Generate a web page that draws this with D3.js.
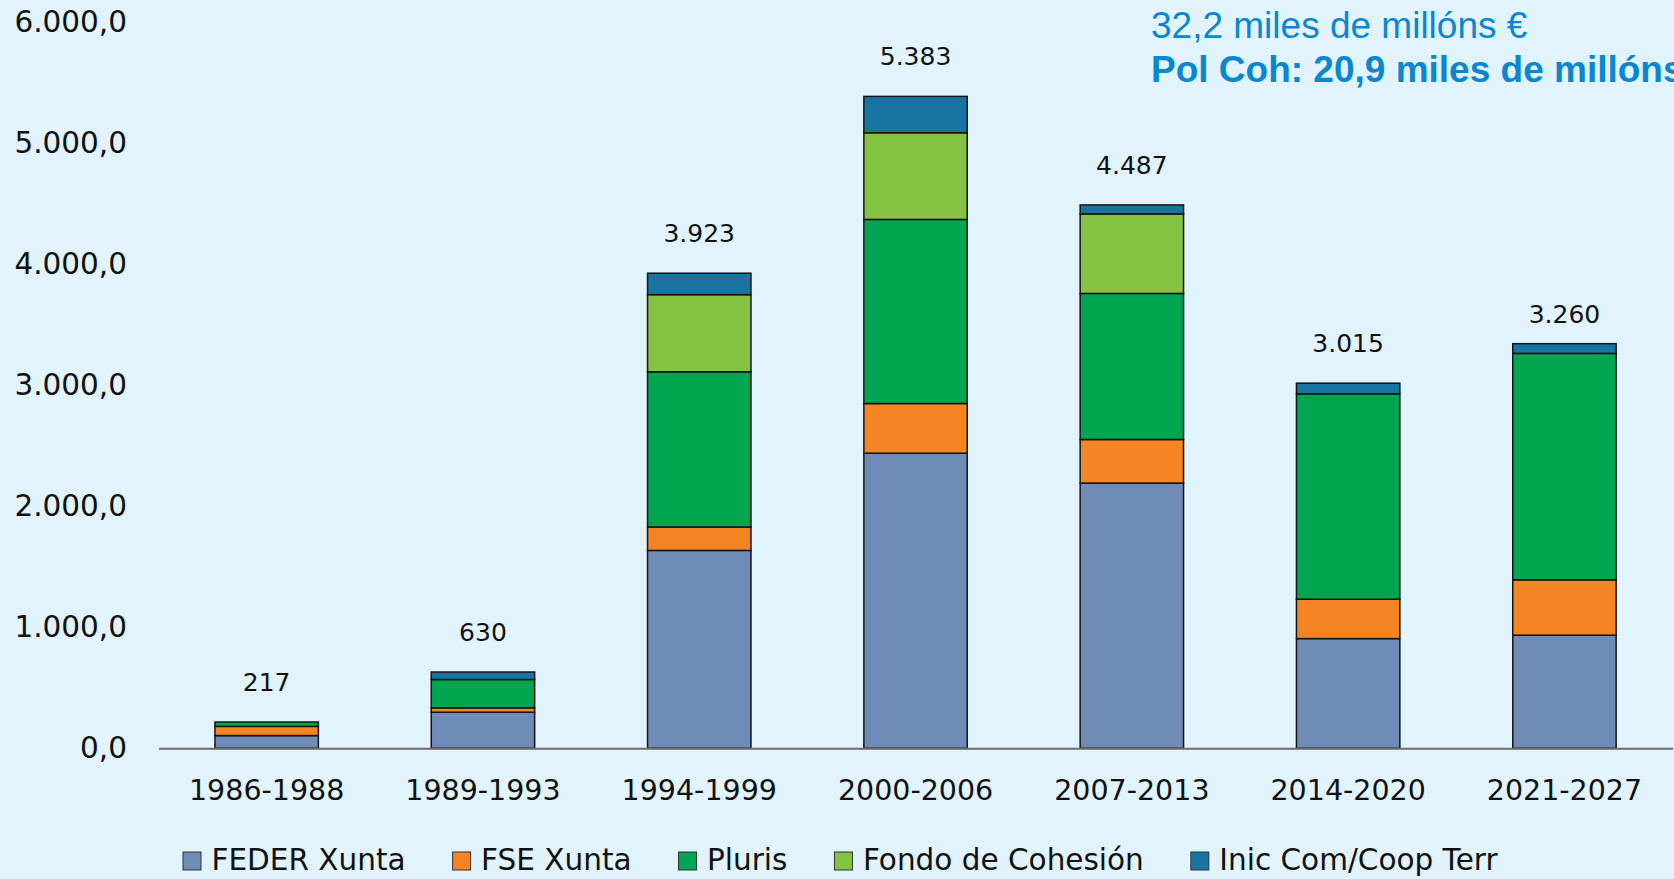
<!DOCTYPE html>
<html>
<head>
<meta charset="utf-8">
<script src="https://cdn.jsdelivr.net/npm/d3@7"></script>
<style>
  body { margin: 0; background: #e1f3fd; }
  svg { display: block; }
</style>
</head>
<body>
<div class="chart"></div>
<script>
// ********************DATA**********************

const periods = ["1986-1988", "1989-1993", "1994-1999", "2000-2006", "2007-2013", "2014-2020", "2021-2027"]

// millóns de euros por fondo
const feder = [105, 298, 1634, 2437, 2190, 906, 934]
const fse = [76, 36, 194, 410, 360, 325, 457]
const pluris = [36, 234, 1281, 1520, 1206, 1696, 1870]
const cohesion = [0, 0, 637, 716, 657, 0, 0]
const inic = [0, 62, 177, 300, 74, 88, 80]

// totals printed over the bars
const totals = [217, 630, 3923, 5383, 4487, 3015, 3260]

const yTicks = [0, 1000, 2000, 3000, 4000, 5000, 6000]

const seriesNames = ["FEDER Xunta", "FSE Xunta", "Pluris", "Fondo de Cohesión", "Inic Com/Coop Terr"]
const colors = ["#6f8cb8", "#f58522", "#00a54f", "#84c341", "#1a74a3"]

const titleLines = ["32,2 miles de millóns €", "Pol Coh: 20,9 miles de millóns €"]

// ********************SETUP**********************

const width = 1674
const height = 879
const font = "'DejaVu Sans', sans-serif"

const locale = d3.formatLocale({ decimal: ",", thousands: ".", grouping: [3], currency: ["", "€"] })
const fmtTick = locale.format(",.1f")
const fmtTotal = locale.format(",d")

// build rows for the stack
const keys = ["feder", "fse", "pluris", "cohesion", "inic"]
const rows = periods.map((p, i) => ({
  period: p,
  feder: feder[i],
  fse: fse[i],
  pluris: pluris[i],
  cohesion: cohesion[i],
  inic: inic[i]
}))
const stacked = d3.stack().keys(keys)(rows)

const xScale = d3.scaleBand()
  .domain(periods)
  .range([158.5, 1672.6])
  .paddingInner(0.522)
  .paddingOuter(0.261)

const yScale = d3.scaleLinear()
  .domain([0, 6000])
  .range([748.3, 21.7])

const svg = d3.select(".chart")
  .append("svg")
  .attr("width", width)
  .attr("height", height)

svg.append("rect")
  .attr("width", width)
  .attr("height", height)
  .attr("fill", "#e1f3fd")

// ********************BARS**********************

svg.selectAll("g.series")
  .data(stacked)
  .enter()
  .append("g")
  .attr("class", "series")
  .attr("fill", (d, i) => colors[i])
  .selectAll("rect")
  .data((d) => d.filter((s) => s[1] - s[0] > 0))
  .enter()
  .append("rect")
  .attr("x", (d) => xScale(d.data.period))
  .attr("y", (d) => yScale(d[1]))
  .attr("width", xScale.bandwidth())
  .attr("height", (d) => yScale(d[0]) - yScale(d[1]))
  .attr("stroke", "#141414")
  .attr("stroke-width", 1.5)

// x-axis line (no ticks)
const xAxis = d3.axisBottom(xScale).tickSize(0).tickPadding(31)
svg.append("g")
  .attr("transform", "translate(0, " + yScale(0) + ")")
  .call(xAxis)
  .call((g) => g.select(".domain").attr("stroke", "#6a6a6a").attr("stroke-width", 2))
  .call((g) => g.selectAll("text")
    .attr("font-family", font)
    .attr("font-size", 28.5)
    .attr("fill", "#111"))

// y-axis labels only
const yAxis = d3.axisLeft(yScale).tickValues(yTicks).tickSize(0).tickPadding(0).tickFormat((d) => fmtTick(d))
svg.append("g")
  .attr("transform", "translate(127, 0)")
  .call(yAxis)
  .call((g) => g.select(".domain").remove())
  .call((g) => g.selectAll("text")
    .attr("font-family", font)
    .attr("font-size", 29.5)
    .attr("fill", "#111"))

// totals over bars
svg.selectAll("text.total")
  .data(totals)
  .enter()
  .append("text")
  .attr("class", "total")
  .attr("x", (d, i) => xScale(periods[i]) + xScale.bandwidth() / 2)
  .attr("y", (d) => yScale(d) - 31)
  .attr("text-anchor", "middle")
  .attr("font-family", font)
  .attr("font-size", 25)
  .attr("fill", "#111")
  .text((d) => fmtTotal(d))

// ********************LEGEND**********************

const legend = svg.append("g")
let lx = 183
seriesNames.forEach((name, i) => {
  legend.append("rect")
    .attr("x", lx)
    .attr("y", 852)
    .attr("width", 18)
    .attr("height", 18)
    .attr("fill", colors[i])
    .attr("stroke", "#333")
    .attr("stroke-width", 1)
  const t = legend.append("text")
    .attr("x", lx + 28.5)
    .attr("y", 870)
    .attr("font-family", font)
    .attr("font-size", 29.5)
    .attr("fill", "#111")
    .text(name)
  lx = lx + 28.5 + t.node().getComputedTextLength() + 47
})

// ********************TITLE**********************

svg.append("text")
  .attr("x", 1151)
  .attr("y", 37.5)
  .attr("font-family", "'Liberation Sans', Arial, sans-serif")
  .attr("font-size", 37)
  .attr("fill", "#0b86d0")
  .text(titleLines[0])

svg.append("text")
  .attr("x", 1151)
  .attr("y", 82)
  .attr("font-family", "'Liberation Sans', Arial, sans-serif")
  .attr("font-size", 37)
  .attr("font-weight", "bold")
  .attr("fill", "#0b86d0")
  .text(titleLines[1])
</script>
</body>
</html>
